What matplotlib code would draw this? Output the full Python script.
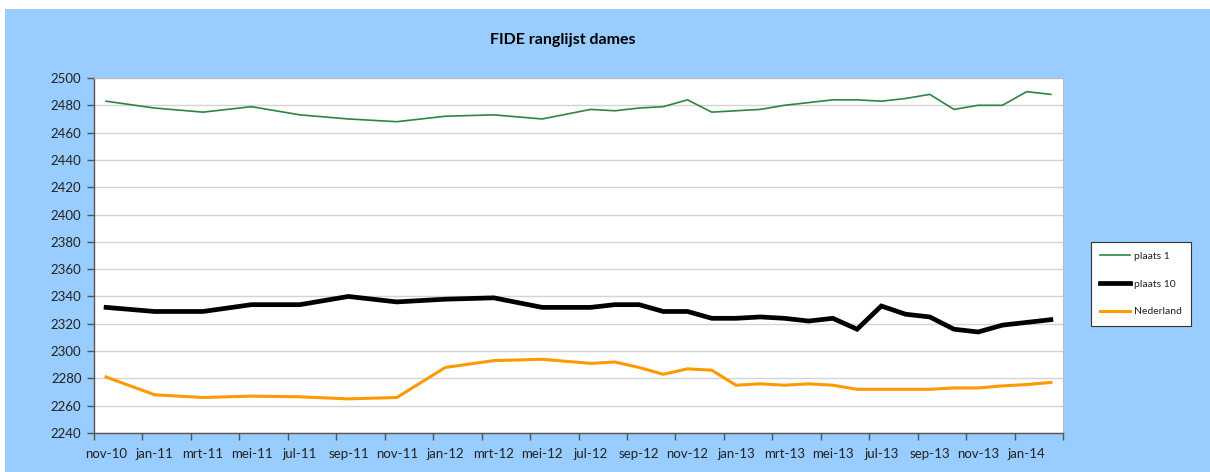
import matplotlib
matplotlib.use("Agg")
import matplotlib.pyplot as plt
from matplotlib.patches import Rectangle

# ---- data ----
months = ["2010-11", "2011-01", "2011-03", "2011-05", "2011-07", "2011-09",
          "2011-11", "2012-01", "2012-03", "2012-05", "2012-07", "2012-08",
          "2012-09", "2012-10", "2012-11", "2012-12", "2013-01", "2013-02",
          "2013-03", "2013-04", "2013-05", "2013-06", "2013-07", "2013-08",
          "2013-09", "2013-10", "2013-11", "2013-12", "2014-01", "2014-02"]

plaats1 = [2483, 2478, 2475, 2479, 2473, 2470, 2468, 2472, 2473, 2470,
           2477, 2476, 2478, 2479, 2484, 2475, 2476, 2477, 2480, 2482,
           2484, 2484, 2483, 2485, 2488, 2477, 2480, 2480, 2490, 2488]

plaats10 = [2332, 2329, 2329, 2334, 2334, 2340, 2336, 2338, 2339, 2332,
            2332, 2334, 2334, 2329, 2329, 2324, 2324, 2325, 2324, 2322,
            2324, 2316, 2333, 2327, 2325, 2316, 2314, 2319, 2321, 2323]

nederland = [2281, 2268, 2266, 2267, 2266.5, 2265, 2266, 2288, 2293, 2294,
             2291, 2292, 2288, 2283, 2287, 2286, 2275, 2276, 2275, 2276,
             2275, 2272, 2272, 2272, 2272, 2273, 2273, 2274.5, 2275.5, 2277]

tick_labels = ["nov-10", "jan-11", "mrt-11", "mei-11", "jul-11", "sep-11",
               "nov-11", "jan-12", "mrt-12", "mei-12", "jul-12", "sep-12",
               "nov-12", "jan-13", "mrt-13", "mei-13", "jul-13", "sep-13",
               "nov-13", "jan-14"]

series_names = ["plaats 1", "plaats 10", "Nederland"]
title = "FIDE ranglijst dames"

# ---- helpers ----
def month_index(s):
    y, m = s.split("-")
    return (int(y) - 2010) * 12 + int(m) - 11

x = [month_index(s) + 0.5 for s in months]
n_slots = 40

FONT = ["Lato", "DejaVu Sans"]
plt.rcParams["font.family"] = FONT

W, H = 1210, 472
fig = plt.figure(figsize=(W / 100, H / 100), dpi=100)
fig.patch.set_facecolor("white")
fig.add_artist(Rectangle((5 / W, 0), 1 - 5 / W, 1 - 9 / H,
                         transform=fig.transFigure, facecolor="#99CCFF",
                         edgecolor="none", zorder=0))

left, right, top, bottom = 94, 1063, 78, 433
ax = fig.add_axes([left / W, (H - bottom) / H, (right - left) / W, (bottom - top) / H])
ax.set_facecolor("white")

ax.plot(x, plaats1, color="#2E8540", lw=1.2, label=series_names[0], zorder=3)
ax.plot(x, plaats10, color="black", lw=3.4, label=series_names[1], zorder=3,
        solid_joinstyle="miter")
ax.plot(x, nederland, color="#FF9900", lw=2.2, label=series_names[2], zorder=3)

ax.set_xlim(0, n_slots)
ax.set_ylim(2240, 2500)
ax.set_yticks(range(2240, 2501, 20))
ax.yaxis.grid(True, color="#D4D4D4", lw=1.0)
ax.set_axisbelow(True)

ax.set_xticks(range(0, n_slots + 1, 2))
ax.set_xticklabels([])
ax.set_xticks([i + 0.5 for i in range(0, len(tick_labels) * 2, 2)], minor=True)
ax.set_xticklabels(tick_labels, minor=True)
ax.tick_params(axis="x", which="major", direction="out", length=5, width=1, color="#555555")
ax.tick_params(axis="x", which="minor", length=0, pad=11, labelsize=9.5, labelcolor="#222222")
ax.tick_params(axis="y", direction="out", length=5, width=1, color="#555555",
               labelsize=9.5, labelcolor="#222222", pad=4)

for s in ["top", "right"]:
    ax.spines[s].set_color("#BBBBBB")
    ax.spines[s].set_linewidth(0.8)
for s in ["left", "bottom"]:
    ax.spines[s].set_color("#555555")
    ax.spines[s].set_linewidth(1.0)

fig.text(563 / W, 1 - 40 / H, title, ha="center", va="center",
         fontsize=11.5, fontweight="bold", color="black")

leg = fig.legend(loc="center", bbox_to_anchor=((1096 + 1186) / 2 / W, 1 - 284 / H),
                 fontsize=7.5, frameon=True, fancybox=False, framealpha=1,
                 handlelength=2.9, handletextpad=0.35, labelspacing=1.75,
                 borderpad=0.9, borderaxespad=0)
leg.get_frame().set_edgecolor("#333333")
leg.get_frame().set_linewidth(0.8)
leg.get_frame().set_facecolor("white")
for t in leg.get_texts():
    t.set_color("#222222")

fig.savefig("out.png", dpi=100)
